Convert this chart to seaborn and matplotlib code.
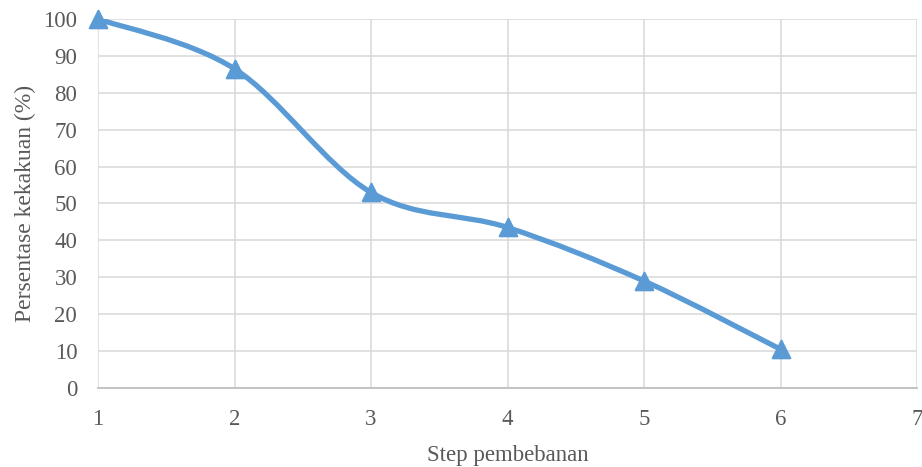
import numpy as np
import pandas as pd
import matplotlib
matplotlib.use("Agg")
import matplotlib.pyplot as plt
from matplotlib.path import Path
from matplotlib.patches import PathPatch
import seaborn as sns

steps = [1, 2, 3, 4, 5, 6]
stiffness = [100, 86.5, 53, 43.5, 29, 10.5]
x_ticks = [1, 2, 3, 4, 5, 6, 7]
y_ticks = [0, 10, 20, 30, 40, 50, 60, 70, 80, 90, 100]
x_label = "Step pembebanan"
y_label = "Persentase kekakuan (%)"

color = "#5B9BD5"
text_color = "#595959"

sns.set_theme(style="white")
plt.rcParams["font.family"] = ["Liberation Serif", "DejaVu Serif"]

fig = plt.figure(figsize=(9.22, 4.67), dpi=100)
ax = fig.add_axes([0.1063, 0.1692, 0.8883, 0.7901])

df = pd.DataFrame({"step": steps, "val": stiffness})

# smooth line (Catmull-Rom style Bezier like Excel's smoothed line)
xs = np.array(steps, dtype=float)
ys = np.array(stiffness, dtype=float)
verts = [(xs[0], ys[0])]
codes = [Path.MOVETO]
n = len(xs)
for i in range(n - 1):
    p0 = np.array([xs[max(i - 1, 0)], ys[max(i - 1, 0)]])
    p1 = np.array([xs[i], ys[i]])
    p2 = np.array([xs[i + 1], ys[i + 1]])
    p3 = np.array([xs[min(i + 2, n - 1)], ys[min(i + 2, n - 1)]])
    c1 = p1 + (p2 - p0) / 6.0
    c2 = p2 - (p3 - p1) / 6.0
    verts += [tuple(c1), tuple(c2), tuple(p2)]
    codes += [Path.CURVE4] * 3
patch = PathPatch(Path(verts, codes), facecolor="none", edgecolor=color,
                  linewidth=3.8, capstyle="round", joinstyle="round", zorder=3)
ax.add_patch(patch)

sns.scatterplot(data=df, x="step", y="val", marker="^", s=160, color=color,
                edgecolor=color, linewidth=1.5, ax=ax, zorder=4, clip_on=False)

ax.set_xlim(1, 7)
ax.set_ylim(0, 100)
ax.set_xticks(x_ticks)
ax.set_yticks(y_ticks)
ax.grid(True, color="#d9d9d9", linewidth=1.1)
ax.set_axisbelow(True)
for s in ["top", "right", "left"]:
    ax.spines[s].set_visible(False)
ax.spines["bottom"].set_color("#bfbfbf")
ax.spines["bottom"].set_linewidth(1.3)

ax.tick_params(axis="both", length=0, labelsize=16.5, labelcolor=text_color)
ax.tick_params(axis="x", pad=15)
ax.tick_params(axis="y", pad=15)
ax.set_xlabel(x_label, fontsize=16.5, color=text_color, labelpad=11)
ax.set_ylabel(y_label, fontsize=17, color=text_color, labelpad=5.5)

fig.savefig("out.png", dpi=100)
